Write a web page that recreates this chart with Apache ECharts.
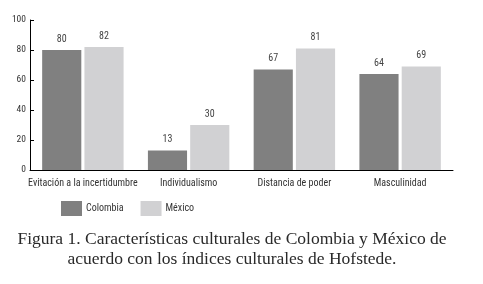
<!DOCTYPE html>
<html><head><meta charset="utf-8">
<script src="https://cdn.jsdelivr.net/npm/echarts@6/dist/echarts.min.js"></script>
<style>html,body{margin:0;padding:0;background:#fff}#c{width:483px;height:284px}</style>
</head><body><div id="c"></div>
<script>
const categories = ['Evitación a la incertidumbre','Individualismo','Distancia de poder','Masculinidad'];
const colombia = [80,13,67,64];
const mexico = [82,30,81,69];
const yTicks = [0,20,40,60,80,100];
const captionLines = ['Figura 1. Características culturales de Colombia y México de','acuerdo con los índices culturales de Hofstede.'];
const FONT = '"Liberation Sans Narrow", "Roboto Condensed", "Liberation Sans", sans-serif';
const chart = echarts.init(document.getElementById('c'));
chart.setOption({
  animation:false,
  graphic:[{
    type:'text', x:232, y:229,
    style:{text:captionLines.join('\n'), align:'center', verticalAlign:'top',
      font:'normal 17.5px "Liberation Serif", "DejaVu Serif", serif', fill:'#2a2a2a', lineHeight:20}
  }],
  legend:{
    left:61, top:201, padding:0, itemWidth:21, itemHeight:15, itemGap:17,
    icon:'rect',
    textStyle:{fontFamily:FONT, fontSize:10, color:'#333', padding:[0,0,0,-1]},
    data:['Colombia','México']
  },
  grid:{left:30, right:30, top:20, bottom:114, containLabel:false},
  xAxis:{
    type:'category', data:categories,
    axisLine:{lineStyle:{color:'#000', width:1}},
    axisTick:{inside:true, length:5, lineStyle:{color:'#000'}},
    axisLabel:{fontFamily:FONT, fontSize:10, color:'#333', margin:8, interval:0}
  },
  yAxis:{
    type:'value', min:0, max:100, interval:20,
    axisLine:{show:true, lineStyle:{color:'#000', width:1}},
    axisTick:{show:true, inside:true, length:4, lineStyle:{color:'#000'}},
    splitLine:{show:false},
    axisLabel:{fontFamily:FONT, fontSize:9.5, color:'#333', margin:4,
      formatter:v=>yTicks.includes(v)?String(v):''}
  },
  series:[
    {name:'Colombia', type:'bar', data:colombia, barGap:'8%', barCategoryGap:'23%',
     itemStyle:{color:'#808080'},
     label:{show:true, position:'top', distance:6, fontFamily:FONT, fontSize:10, color:'#444'}},
    {name:'México', type:'bar', data:mexico,
     itemStyle:{color:'#d1d1d3'},
     label:{show:true, position:'top', distance:6, fontFamily:FONT, fontSize:10, color:'#444'}}
  ]
});
</script></body></html>
